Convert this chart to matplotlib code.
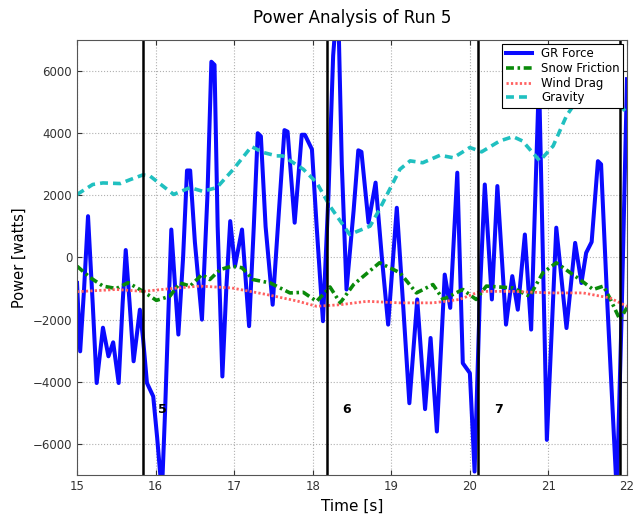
import matplotlib
matplotlib.use("Agg")
import matplotlib.pyplot as plt

# GR force (peaks/troughs plus a few in-between points)
gr_t = [15.00, 15.04, 15.09, 15.14, 15.20, 15.25, 15.33, 15.40, 15.46, 15.53,
        15.58, 15.62, 15.67, 15.72, 15.80, 15.84, 15.89, 15.97, 16.02, 16.08,
        16.12, 16.16, 16.20, 16.25, 16.29, 16.35, 16.40, 16.44, 16.50, 16.59,
        16.66, 16.71, 16.75, 16.79, 16.85, 16.90, 16.95, 17.01, 17.10, 17.19,
        17.25, 17.30, 17.34, 17.40, 17.49, 17.57, 17.64, 17.68, 17.77, 17.86,
        17.90, 17.99, 18.05, 18.13, 18.20, 18.26, 18.32, 18.37, 18.43, 18.52,
        18.58, 18.62, 18.71, 18.80, 18.88, 18.96, 19.07, 19.15, 19.23, 19.33,
        19.43, 19.50, 19.58, 19.68, 19.75, 19.84, 19.91, 20.00, 20.06, 20.13,
        20.19, 20.28, 20.35, 20.46, 20.54, 20.61, 20.70, 20.78, 20.88, 20.98,
        21.10, 21.23, 21.34, 21.42, 21.48, 21.55, 21.63, 21.67, 21.75, 21.87,
        21.93, 22.00]
gr_p = [-820, -3020, -1000, 1330, -1500, -4040, -2260, -3180, -2730, -4040,
        -1500, 240, -1500, -3340, -1680, -2600, -4040, -4470, -5800, -7600,
        -5000, -2000, 900, -1000, -2480, 0, 2800, 2800, 500, -2000,
        2000, 6300, 6200, 1000, -3830, -1000, 1170, -280, 900, -2210,
        1000, 4000, 3900, 1000, -1520, 1500, 4100, 4050, 1120, 3950,
        3950, 3480, 1000, -2050, 2000, 6500, 8500, 3000, -1030, 1500,
        3450, 3400, 1120, 2410, 0, -2160, 1600, -1500, -4690, -1350,
        -4880, -2590, -5600, -550, -1620, 2730, -3400, -3720, -6890, -1000,
        2350, -1350, 2300, -2160, -600, -1680, 740, -2320, 5800, -5870,
        960, -2270, 470, -820, 150, 500, 3100, 3000, -1500, -7600,
        -2000, 5740]

# Snow friction
sf_t = [15.00, 15.17, 15.33, 15.50, 15.65, 15.84, 16.01, 16.18, 16.31, 16.44,
        16.59, 16.69, 16.82, 16.97, 17.10, 17.24, 17.46, 17.71, 17.88, 18.05,
        18.22, 18.35, 18.52, 18.85, 19.11, 19.32, 19.53, 19.66, 19.91, 20.08,
        20.21, 20.55, 20.76, 20.93, 21.10, 21.40, 21.57, 21.70, 21.78, 21.91,
        22.00]
sf_p = [-280, -650, -920, -1000, -810, -1090, -1380, -1250, -820, -920,
        -550, -710, -390, -280, -330, -710, -820, -1140, -1120, -1410,
        -950, -1460, -870, -170, -490, -1140, -870, -1350, -1030, -1350,
        -920, -980, -1250, -490, -170, -710, -1030, -920, -1300, -2000,
        -1610]

# Wind drag
wd_t = [15.00, 15.50, 15.84, 16.20, 16.56, 16.97, 17.41, 17.80, 18.05, 18.35,
        18.69, 19.11, 19.53, 19.87, 20.13, 20.55, 21.02, 21.44, 21.78, 22.00]
wd_p = [-1100, -1030, -1090, -1000, -920, -980, -1190, -1400, -1570, -1520,
        -1410, -1460, -1460, -1350, -1090, -1090, -1140, -1140, -1300, -1570]

# Gravity
gv_t = [15.00, 15.20, 15.33, 15.55, 15.67, 15.84, 15.93, 16.23, 16.44, 16.60,
        16.78, 16.99, 17.22, 17.37, 17.54, 17.62, 17.88, 18.05, 18.22, 18.47,
        18.73, 18.85, 19.11, 19.24, 19.40, 19.62, 19.79, 20.00, 20.15, 20.38,
        20.55, 20.67, 20.89, 21.06, 21.23, 21.40, 21.60, 21.80, 22.00]
gv_p = [2030, 2350, 2400, 2380, 2500, 2660, 2620, 2030, 2250, 2130,
        2250, 2840, 3570, 3380, 3270, 3270, 2840, 2410, 1650, 740,
        1010, 1550, 2840, 3110, 3050, 3290, 3210, 3540, 3400, 3750,
        3890, 3750, 3110, 3590, 4560, 5200, 5700, 5400, 4600]

# run boundaries and their labels
run_lines = [15.84, 18.18, 20.10, 21.91]
run_labels = ["5", "6", "7"]
label_t = [16.09, 18.43, 20.36]
label_y = -4900

fig = plt.figure(figsize=(6.44, 5.23), dpi=100)
ax = fig.add_axes([0.1196, 0.0918, 0.854, 0.8317])

ax.plot(gr_t, gr_p, color="#0a0aff", lw=2.9, label="GR Force")
ax.plot(sf_t, sf_p, color="#0a8a0a", lw=2.6, ls=(0, (2.2, 1.0, 0.7, 1.0)),
        label="Snow Friction")
ax.plot(wd_t, wd_p, color="#ff6060", lw=2.0, ls=(0, (0.8, 0.8)), label="Wind Drag")
ax.plot(gv_t, gv_p, color="#20c0c0", lw=2.6, ls=(0, (2.2, 1.4)), label="Gravity")

for x in run_lines:
    ax.axvline(x, color="black", lw=1.8)
for s, x in zip(run_labels, label_t):
    ax.text(x, label_y, s, fontsize=9, fontweight="bold", ha="center", va="center")

ax.set_xlim(15, 22)
ax.set_ylim(-7000, 7000)
ax.set_xticks(range(15, 23))
ax.set_yticks(range(-6000, 6001, 2000))
ax.grid(True, ls=":", color="#b0b0b0", lw=0.8)
ax.tick_params(direction="in", top=True, right=True, labelsize=8.5, colors="#333333")
for sp in ax.spines.values():
    sp.set_color("#555555")
    sp.set_linewidth(0.8)

ax.set_title("Power Analysis of Run 5", fontsize=12, pad=12)
ax.set_xlabel("Time [s]", fontsize=11)
ax.set_ylabel("Power [watts]", fontsize=10.5)

leg = ax.legend(loc="upper right", fontsize=8.5, fancybox=False, framealpha=1,
                edgecolor="black", borderpad=0.3, labelspacing=0.15,
                handlelength=2.2, borderaxespad=0.3)
leg.get_frame().set_linewidth(0.8)

fig.savefig("out.png", dpi=100)
